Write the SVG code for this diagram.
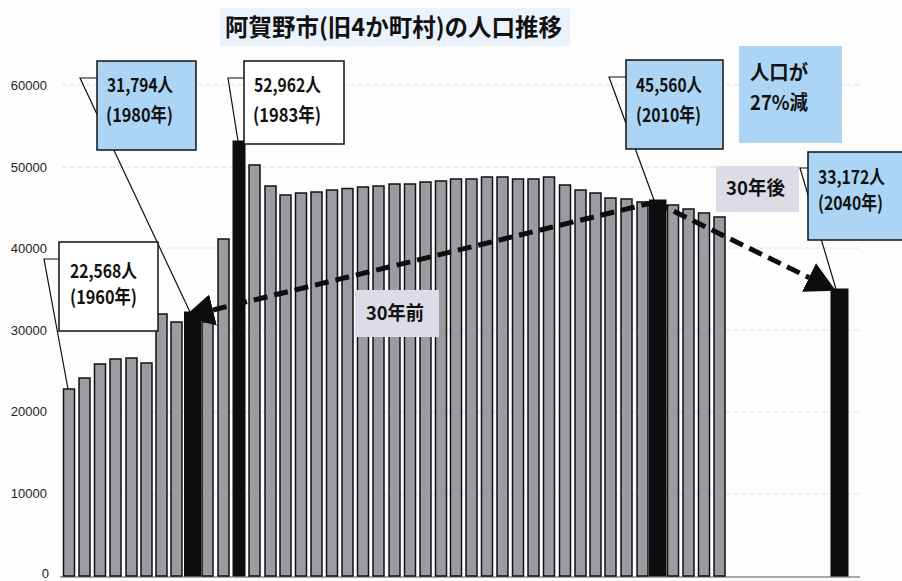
<svg xmlns="http://www.w3.org/2000/svg" width="902" height="581" viewBox="0 0 902 581">
<defs>
<style>
.ax{font-family:"Liberation Sans",Arial,sans-serif;font-size:13px;fill:#222;text-anchor:end}
.t{font-family:"Noto Sans CJK JP","Noto Sans CJK SC",sans-serif;font-weight:bold;font-size:19px;fill:#111}
.grid{stroke:#dde0e8;stroke-width:1;stroke-dasharray:5 3}
.bar{fill:#9b9ca1;stroke:#111;stroke-width:1.5}
.blk{fill:#0d0d0d;stroke:#0d0d0d;stroke-width:1}
.blue{fill:#acd5f5;stroke:#111;stroke-width:1.5}
.white{fill:#ffffff;stroke:#111;stroke-width:1.5}
.lav{fill:#dcdce6}
.lead{fill:none;stroke:#111;stroke-width:1.2}
.dash{fill:none;stroke:#0d0d0d;stroke-width:5;stroke-dasharray:14 7}
</style>
<marker id="ah" markerUnits="userSpaceOnUse" viewBox="0 0 30 32" refX="0" refY="16" markerWidth="30" markerHeight="32" orient="auto">
<path d="M0,0 L30,16 L0,32 z" fill="#0d0d0d"/>
</marker>
</defs>
<rect x="0" y="0" width="902" height="581" fill="#fdfdfe"/>

<g id="title">
<rect x="220" y="8" width="350" height="38" fill="#eaf2fb"/>
<text x="225" y="36" class="t" style="font-size:24px" textLength="337" lengthAdjust="spacingAndGlyphs">阿賀野市(旧4か町村)の人口推移</text>
</g>

<g id="axis">
<line class="grid" x1="62" y1="85" x2="860" y2="85"/>
<line class="grid" x1="62" y1="167" x2="860" y2="167"/>
<line class="grid" x1="62" y1="248" x2="860" y2="248"/>
<line class="grid" x1="62" y1="330" x2="860" y2="330"/>
<line class="grid" x1="62" y1="412" x2="860" y2="412"/>
<line class="grid" x1="62" y1="494" x2="860" y2="494"/>
<line x1="60" y1="577" x2="860" y2="577" stroke="#8a8a90" stroke-width="1.5"/>
<text class="ax" x="47" y="90">60000</text>
<text class="ax" x="47" y="172">50000</text>
<text class="ax" x="47" y="253">40000</text>
<text class="ax" x="47" y="335">30000</text>
<text class="ax" x="47" y="416">20000</text>
<text class="ax" x="47" y="498">10000</text>
<text class="ax" x="49" y="578">0</text>
</g>

<g id="bars">
<rect class="bar" x="63.5" y="389" width="11" height="187"/>
<rect class="bar" x="79" y="378" width="11" height="198"/>
<rect class="bar" x="94.5" y="364" width="11" height="212"/>
<rect class="bar" x="110" y="359" width="11" height="217"/>
<rect class="bar" x="126" y="358" width="11" height="218"/>
<rect class="bar" x="141" y="363" width="11" height="213"/>
<rect class="bar" x="156" y="314" width="11" height="262"/>
<rect class="bar" x="171" y="322" width="11" height="254"/>
<rect class="blk" x="184.5" y="312" width="16" height="264"/>
<rect class="bar" x="202" y="322" width="11" height="254"/>
<rect class="bar" x="218" y="239" width="11" height="337"/>
<rect class="blk" x="233" y="141" width="12" height="435"/>
<rect class="bar" x="249" y="165" width="11" height="411"/>
<rect class="bar" x="265" y="186" width="11" height="390"/>
<rect class="bar" x="280" y="195" width="11" height="381"/>
<rect class="bar" x="295.5" y="193" width="11" height="383"/>
<rect class="bar" x="311" y="192" width="11" height="384"/>
<rect class="bar" x="326.5" y="190" width="11" height="386"/>
<rect class="bar" x="342" y="188.5" width="11" height="387.5"/>
<rect class="bar" x="357.5" y="187" width="11" height="389"/>
<rect class="bar" x="373" y="186" width="11" height="390"/>
<rect class="bar" x="389" y="184" width="11" height="392"/>
<rect class="bar" x="404.5" y="184" width="11" height="392"/>
<rect class="bar" x="420" y="182" width="11" height="394"/>
<rect class="bar" x="435.5" y="181" width="11" height="395"/>
<rect class="bar" x="450.5" y="179" width="11" height="397"/>
<rect class="bar" x="466" y="179" width="11" height="397"/>
<rect class="bar" x="481.5" y="177" width="11" height="399"/>
<rect class="bar" x="497" y="177" width="11" height="399"/>
<rect class="bar" x="512.5" y="179" width="11" height="397"/>
<rect class="bar" x="528" y="179" width="11" height="397"/>
<rect class="bar" x="543.5" y="177" width="11" height="399"/>
<rect class="bar" x="559.5" y="185" width="11" height="391"/>
<rect class="bar" x="575" y="190" width="11" height="386"/>
<rect class="bar" x="590" y="193" width="11" height="383"/>
<rect class="bar" x="605" y="198" width="11" height="378"/>
<rect class="bar" x="621" y="199" width="11" height="377"/>
<rect class="bar" x="637" y="202" width="11" height="374"/>
<rect class="blk" x="649.5" y="200" width="16.5" height="376"/>
<rect class="bar" x="667.5" y="205" width="11" height="371"/>
<rect class="bar" x="683" y="209" width="11" height="367"/>
<rect class="bar" x="698.5" y="213" width="11" height="363"/>
<rect class="bar" x="714" y="217" width="11" height="359"/>
<rect class="blk" x="831" y="289" width="17" height="287"/>
</g>

<g id="connectors">
<polyline class="lead" points="97,78 80,78 190,312"/>
<polyline class="lead" points="244,78 228,78 238,141"/>
<polyline class="lead" points="59,259 44,259 68,389"/>
<polyline class="lead" points="626,77 609,77 654,200"/>
<polyline class="lead" points="808,168 800,168 836,289"/>
<line class="dash" x1="655" y1="202" x2="213" y2="310" marker-end="url(#ah)"/>
<line class="dash" x1="655" y1="202" x2="809" y2="277.5" marker-end="url(#ah)"/>
</g>

<g id="n1980">
<rect class="blue" x="97" y="61" width="99" height="89"/>
<text class="t" x="107" y="92" textLength="66" lengthAdjust="spacingAndGlyphs">31,794人</text>
<text class="t" x="106" y="122" textLength="67" lengthAdjust="spacingAndGlyphs">(1980年)</text>
</g>

<g id="n1983">
<rect class="white" x="244" y="61" width="100" height="83"/>
<text class="t" x="254" y="92" textLength="67" lengthAdjust="spacingAndGlyphs">52,962人</text>
<text class="t" x="253" y="122" textLength="68" lengthAdjust="spacingAndGlyphs">(1983年)</text>
</g>

<g id="n1960">
<rect class="white" x="59" y="242" width="99" height="89"/>
<text class="t" x="70" y="278" textLength="67" lengthAdjust="spacingAndGlyphs">22,568人</text>
<text class="t" x="70" y="304" textLength="67" lengthAdjust="spacingAndGlyphs">(1960年)</text>
</g>

<g id="n2010">
<rect class="blue" x="626" y="60" width="97" height="89"/>
<text class="t" x="636" y="92" textLength="66" lengthAdjust="spacingAndGlyphs">45,560人</text>
<text class="t" x="636" y="122" textLength="65" lengthAdjust="spacingAndGlyphs">(2010年)</text>
</g>

<g id="nDecrease">
<rect x="739" y="46" width="103" height="97" fill="#acd5f5"/>
<text class="t" x="750" y="80" style="font-size:20px" textLength="58" lengthAdjust="spacingAndGlyphs">人口が</text>
<text class="t" x="750" y="110" style="font-size:20px" textLength="58" lengthAdjust="spacingAndGlyphs">27%減</text>
</g>

<g id="nAfter">
<rect class="lav" x="716" y="166" width="83" height="46"/>
<text class="t" x="726" y="195" textLength="59" lengthAdjust="spacingAndGlyphs">30年後</text>
</g>

<g id="n2040">
<rect class="blue" x="808" y="152" width="100" height="88"/>
<text class="t" x="818" y="184" textLength="67" lengthAdjust="spacingAndGlyphs">33,172人</text>
<text class="t" x="818" y="210" textLength="65" lengthAdjust="spacingAndGlyphs">(2040年)</text>
</g>

<g id="nBefore">
<rect class="lav" x="355" y="290" width="84" height="47"/>
<text class="t" x="366" y="320" textLength="58" lengthAdjust="spacingAndGlyphs">30年前</text>
</g>
</svg>
